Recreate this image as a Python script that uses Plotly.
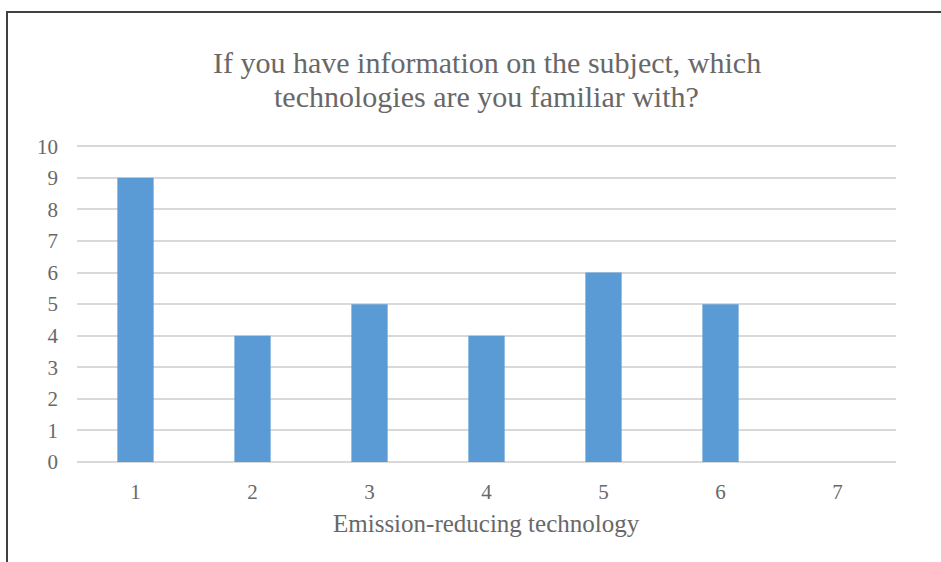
import plotly.graph_objects as go

categories = ["1", "2", "3", "4", "5", "6", "7"]
counts = [9, 4, 5, 4, 6, 5, 0]
y_ticks = list(range(0, 11))
title_lines = [
    "If you have information on the subject, which",
    "technologies are you familiar with?",
]
x_title = "Emission-reducing technology"

W, H = 941, 562
L, R, T, B = 77, 45, 145, 100
pw, ph = W - L - R, H - T - B
GREY = "#686868"
FONT = "Liberation Serif"


def py(pixel_y):
    # page pixel row -> paper y
    return 1 - (pixel_y - T) / ph


fig = go.Figure(
    go.Bar(
        x=categories,
        y=counts,
        marker_color="#5b9bd5",
        marker_line_width=0,
        hoverinfo="x+y",
    )
)

fig.update_layout(
    width=W,
    height=H,
    margin=dict(l=L, r=R, t=T, b=B),
    plot_bgcolor="white",
    paper_bgcolor="white",
    bargap=0.69,
    font_family=FONT,
    font_color=GREY,
    showlegend=False,
)

# two-line title, placed line by line for tighter spacing
for text, row in zip(title_lines, [62, 96]):
    fig.add_annotation(
        text=text, x=0.5, xref="paper", y=py(row), yref="paper",
        xanchor="center", yanchor="middle", showarrow=False,
        font=dict(size=30, color=GREY, family=FONT),
    )

fig.add_annotation(
    text=x_title, x=0.5, xref="paper", y=py(523), yref="paper",
    xanchor="center", yanchor="middle", showarrow=False,
    font=dict(size=25, color=GREY, family=FONT),
)

fig.update_xaxes(
    tickfont_size=21,
    showgrid=False,
    showline=False,
    ticks="",
    ticklabelstandoff=15,
)

fig.update_yaxes(
    range=[0, 10.04],
    tickvals=y_ticks,
    tickfont_size=21,
    gridcolor="#d9d9d9",
    gridwidth=2,
    zeroline=True,
    zerolinecolor="#d9d9d9",
    zerolinewidth=2,
    showline=False,
    ticks="",
    ticklabelstandoff=18,
)

# frame of the original picture (left + top edges only, the rest is cropped)
x0 = (7 - L) / pw
x1 = (W + 10 - L) / pw
fig.add_shape(
    type="path",
    xref="paper",
    yref="paper",
    path=f"M {x0} {py(H + 10)} L {x0} {py(12)} L {x1} {py(12)}",
    line=dict(color="#404040", width=2),
)

fig.write_html(
    "out.html",
    config={"displayModeBar": False},
    post_script="document.body.style.margin='0';",
)
